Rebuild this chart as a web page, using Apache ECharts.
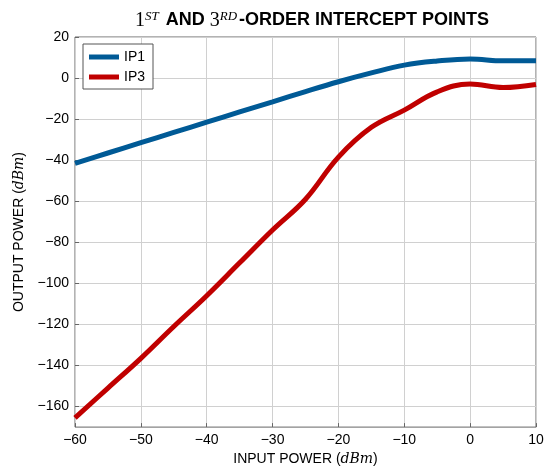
<!DOCTYPE html>
<html><head><meta charset="utf-8">
<script src="https://cdn.jsdelivr.net/npm/echarts@6/dist/echarts.min.js"></script>
<style>html,body{margin:0;padding:0;background:#fff}#c{width:550px;height:471px}</style>
</head><body><div id="c"></div>
<script>
const inputPower = [-60,-55,-50,-45,-40,-35,-30,-25,-20,-15,-10,-5,0,5,10];
const ip1 = [-41.5,-36.5,-31.5,-26.5,-21.5,-16.5,-11.6,-6.6,-1.8,2.5,6.3,8.3,9.3,8.4,8.4];
const ip3 = [-165.5,-151,-136.5,-121,-106,-90,-74,-59,-38.5,-24,-15.6,-6.7,-2.9,-4.6,-3.1];
const seriesNames = ['IP1','IP3'];
const xTicks = [-60,-50,-40,-30,-20,-10,0,10];
const yTicks = [-160,-140,-120,-100,-80,-60,-40,-20,0,20];

const fmt = v => (v < 0 ? '\u2212' + Math.abs(v) : String(v));
const chart = echarts.init(document.getElementById('c'));
const serif = '"DejaVu Serif","Liberation Serif",serif';
const sans = '"Liberation Sans","DejaVu Sans",Arial,sans-serif';
chart.setOption({
  animation:false,
  title:{
    text:'{n|1}{s|ST}{b| AND }{n|3}{s|RD}{b|-ORDER INTERCEPT POINTS}',
    left:307, top:5, textAlign:'center',
    textStyle:{rich:{
      n:{fontFamily:'"Liberation Serif",serif',fontSize:20,fontWeight:'normal',color:'#000'},
      s:{fontFamily:'"Liberation Serif",serif',fontSize:13,fontStyle:'italic',fontWeight:'normal',color:'#000',verticalAlign:'top',padding:[0,2,8,0]},
      b:{fontFamily:sans,fontSize:18,fontWeight:'bold',color:'#000'}
    }}
  },
  legend:{
    left:83, top:44, orient:'vertical', itemWidth:30, itemHeight:5, itemGap:6,
    padding:[6,8,5,6], borderColor:'#555', borderWidth:1, backgroundColor:'#fff',
    textStyle:{fontFamily:sans,fontSize:14,color:'#000'},
    data:seriesNames.map(n=>({name:n,icon:'rect'}))
  },
  grid:{left:75,right:14,top:37,bottom:43,show:true,borderColor:'#666',borderWidth:1},
  xAxis:{
    type:'value', min:-60, max:10, interval:10,
    name:'{t|INPUT POWER (}{i|dBm}{t|)}', nameLocation:'middle', nameGap:24,
    nameTextStyle:{rich:{t:{fontFamily:sans,fontSize:14,color:'#000'},i:{fontFamily:serif,fontStyle:'italic',fontSize:14,color:'#000'}}},
    axisLine:{show:false,onZero:false},
    axisTick:{inside:true,length:4,lineStyle:{color:'#666'}},
    splitLine:{lineStyle:{color:'#d0d0d0',width:1}},
    axisLabel:{formatter:fmt,fontFamily:sans,fontSize:14,color:'#000',margin:6,customValues:xTicks}
  },
  yAxis:{
    type:'value', min:-170, max:20, interval:10,
    name:'{t|OUTPUT POWER (}{i|dBm}{t|)}', nameLocation:'middle', nameGap:47,
    nameTextStyle:{rich:{t:{fontFamily:sans,fontSize:14,color:'#000'},i:{fontFamily:serif,fontStyle:'italic',fontSize:14,color:'#000'}}},
    axisLine:{show:false,onZero:false},
    axisTick:{inside:true,length:4,lineStyle:{color:'#666'},customValues:yTicks},
    splitLine:{lineStyle:{color:'#d0d0d0',width:1}},
    axisLabel:{formatter:fmt,fontFamily:sans,fontSize:14,color:'#000',margin:6,customValues:yTicks}
  },
  series:[
    {name:'IP1',type:'line',data:inputPower.map((x,i)=>[x,ip1[i]]),smooth:0.4,showSymbol:false,
     lineStyle:{color:'#005a96',width:5},itemStyle:{color:'#005a96'}},
    {name:'IP3',type:'line',data:inputPower.map((x,i)=>[x,ip3[i]]),smooth:0.4,showSymbol:false,
     lineStyle:{color:'#c00000',width:5},itemStyle:{color:'#c00000'}}
  ]
});
</script></body></html>
